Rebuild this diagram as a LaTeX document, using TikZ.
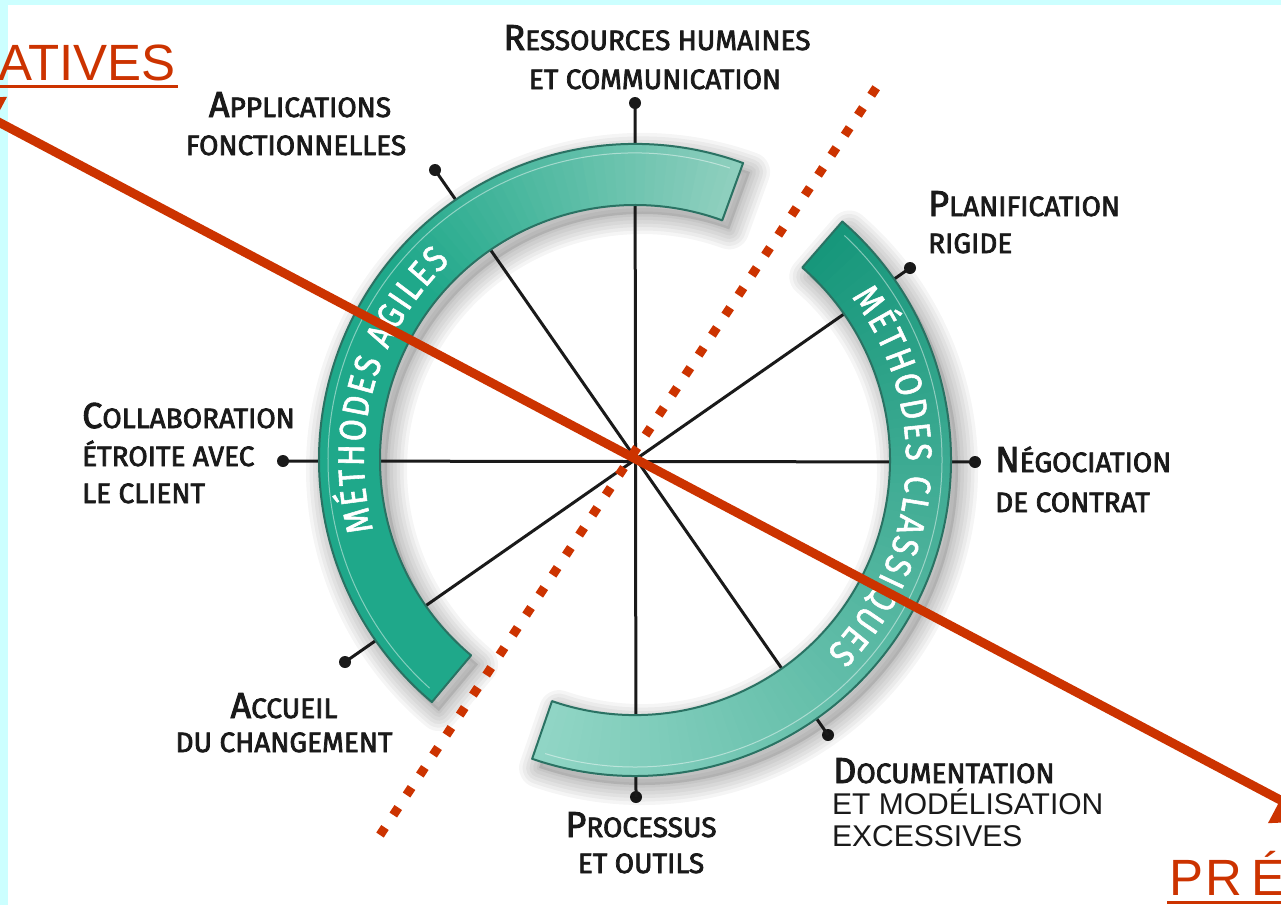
\documentclass[tikz,border=0pt]{standalone}
\usepackage{fontspec}
\setmainfont{Liberation Sans}
\newfontfamily\labfont{Fira Sans}[FakeBold=2.6]
\newfontfamily\arcfont{Fira Sans}[FakeBold=1.5, FakeStretch=0.86]
\usetikzlibrary{arrows.meta,decorations.text}

\definecolor{slidebg}{HTML}{CCFFFF}
\definecolor{accent}{HTML}{CC3300}
\definecolor{ink}{HTML}{1A1A1A}
\definecolor{agileDark}{HTML}{1FA88A}
\definecolor{agileLight}{HTML}{8ECFBE}
\definecolor{classDark}{HTML}{17977B}
\definecolor{classLight}{HTML}{92D6C6}
\definecolor{ringedge}{HTML}{2A7263}

\newcommand\initl[1]{{\fontsize{36}{36}\selectfont #1}}
\newcommand\rin{255}
\newcommand\rout{316}

\begin{document}
\begin{tikzpicture}[x=1pt,y=1pt,
  spoke/.style={draw=ink, line width=3pt},
  pin/.style={circle, fill=ink, inner sep=0pt, minimum size=12pt},
  lab/.style={inner sep=0pt, text=ink, font=\labfont\fontsize{28}{28}\selectfont},
  plain/.style={inner sep=0pt, text=ink, font=\fontsize{30}{30}\selectfont},
  redtext/.style={inner sep=0pt, text=accent},
  redline/.style={draw=accent, line width=9pt},
  ringline/.style={draw=ringedge, line width=2pt, line join=round},
  gloss/.style={draw=white, opacity=0.45, line width=1pt}]

\useasboundingbox (0,-905) rectangle (1281,0);
\begin{scope}
\clip (0,-905) rectangle (1281,0);

% slide and margin
\fill[slidebg] (0,-905) rectangle (1281,0);
\fill[white] (8,-905) rectangle (1281,-5);

% pins at the ends of the spokes
\node[pin] (pT)  at (635,-103) {};
\node[pin] (pB)  at (636,-797) {};
\node[pin] (pL)  at (283,-461) {};
\node[pin] (pR)  at (975,-462) {};
\node[pin] (pUL) at (435,-170) {};
\node[pin] (pDR) at (828,-735) {};
\node[pin] (pUR) at (910,-268) {};
\node[pin] (pDL) at (345,-662) {};

% soft shadow of the two arcs
\begin{scope}[shift={(642,-469)}]
  \foreach \w in {40,33,26,19,12,5}{
    \draw[black, opacity=0.04, line width=\w pt, line join=round]
      (70:\rout) arc[start angle=70,end angle=230,radius=\rout] -- (230:\rin)
      arc[start angle=230,end angle=70,radius=\rin] -- cycle;
    \draw[black, opacity=0.04, line width=\w pt, line join=round]
      (49:\rout) arc[start angle=49,end angle=-109,radius=\rout] -- (-109:\rin)
      arc[start angle=-109,end angle=49,radius=\rin] -- cycle;
  }
  \fill[black, opacity=0.1]
      (70:\rout) arc[start angle=70,end angle=230,radius=\rout] -- (230:\rin)
      arc[start angle=230,end angle=70,radius=\rin] -- cycle;
  \fill[black, opacity=0.1]
      (49:\rout) arc[start angle=49,end angle=-109,radius=\rout] -- (-109:\rin)
      arc[start angle=-109,end angle=49,radius=\rin] -- cycle;
\end{scope}

% spokes
\draw[spoke] (pT.center) -- (pB.center);
\draw[spoke] (pL.center) -- (pR.center);
\draw[spoke] (pUL.center) -- (pDR.center);
\draw[spoke] (pUR.center) -- (pDL.center);

\begin{scope}[shift={(635,-460)}]
  % agile arc, light at its upper end
  \foreach \k in {0,...,79}{
    \pgfmathsetmacro\aa{70+2*\k}
    \pgfmathsetmacro\ab{min(\aa+2.6,230)}
    \pgfmathsetmacro\t{min(100,(\aa-70)/70*100)}
    \fill[agileDark!\t!agileLight] (\aa:\rout) arc[start angle=\aa,end angle=\ab,radius=\rout]
      -- (\ab:\rin) arc[start angle=\ab,end angle=\aa,radius=\rin] -- cycle;
  }
  % classical arc, light at its lower end
  \foreach \k in {0,...,78}{
    \pgfmathsetmacro\aa{49-2*\k}
    \pgfmathsetmacro\ab{max(\aa-2.6,-109)}
    \pgfmathsetmacro\t{(49-\aa)/158*100}
    \fill[classLight!\t!classDark] (\aa:\rout) arc[start angle=\aa,end angle=\ab,radius=\rout]
      -- (\ab:\rin) arc[start angle=\ab,end angle=\aa,radius=\rin] -- cycle;
  }
  \draw[ringline] (70:\rout) arc[start angle=70,end angle=230,radius=\rout] -- (230:\rin)
      arc[start angle=230,end angle=70,radius=\rin] -- cycle;
  \draw[ringline] (49:\rout) arc[start angle=49,end angle=-109,radius=\rout] -- (-109:\rin)
      arc[start angle=-109,end angle=49,radius=\rin] -- cycle;
  \draw[gloss] (72:307) arc[start angle=72,end angle=228,radius=307];
  \draw[gloss] (47:307) arc[start angle=47,end angle=-107,radius=307];

  % arc titles
  \path[decorate, decoration={text along path, text align=fit to path, text color=white,
      text={|\arcfont\fontsize{37}{37}\selectfont|MÉTHODES AGILES}}]
      (195:271) arc[start angle=195,end angle=133,radius=271];
  \path[decorate, decoration={text along path, text align=fit to path, text color=white,
      text={|\arcfont\fontsize{37}{37}\selectfont|MÉTHODES CLASSIQUES}}]
      (37:271) arc[start angle=37,end angle=-45,radius=271];
\end{scope}

% labels
\node[lab, anchor=base] (lRes1) at (657,-50) {\initl{R}ESSOURCES HUMAINES};
\node[lab, anchor=base] (lRes2) at (655,-89) {ET COMMUNICATION};
\node[lab, anchor=base] (lApp1) at (300,-117) {\initl{A}PPLICATIONS};
\node[lab, anchor=base] (lApp2) at (296,-155) {FONCTIONNELLES};
\node[lab, anchor=base west] (lPla1) at (928,-216) {\initl{P}LANIFICATION};
\node[lab, anchor=base west] (lPla2) at (928,-253) {RIGIDE};
\node[lab, anchor=base west] (lCol1) at (82,-428) {\initl{C}OLLABORATION};
\node[lab, anchor=base west] (lCol2) at (82,-466) {ÉTROITE AVEC};
\node[lab, anchor=base west] (lCol3) at (82,-503) {LE CLIENT};
\node[lab, anchor=base west] (lNeg1) at (995,-472) {\initl{N}ÉGOCIATION};
\node[lab, anchor=base west] (lNeg2) at (995,-512) {DE CONTRAT};
\node[lab, anchor=base] (lAcc1) at (284,-718) {\initl{A}CCUEIL};
\node[lab, anchor=base] (lAcc2) at (284,-752) {DU CHANGEMENT};
\node[lab, anchor=base] (lPro1) at (641,-837) {\initl{P}ROCESSUS};
\node[lab, anchor=base] (lPro2) at (641,-873) {ET OUTILS};
\node[lab, anchor=base west] (lDoc1) at (833,-783) {\initl{D}OCUMENTATION};
\node[plain, anchor=base west] (lDoc2) at (832,-814) {ET MODÉLISATION};
\node[plain, anchor=base west] (lDoc3) at (832,-846) {EXCESSIVES};

% dotted divider
\coordinate (dA) at (380,-835);
\coordinate (dB) at (878,-85);
\draw[redline, dash pattern=on 9pt off 15pt] (dA) -- (dB);

% double arrow across the wheel
\coordinate (aL) at (-45,-99);
\coordinate (aR) at (1320,-821);
\draw[redline, {Triangle[length=45pt,width=50pt]}-{Triangle[length=45pt,width=50pt]}] (aL) -- (aR);

% headings cut by the slide edges
\node[redtext, anchor=base east, font=\fontsize{51}{51}\selectfont] (tA) at (176,-80) {ATIVES};
\draw[accent, line width=3pt] ([yshift=-6pt]tA.base west) -- ([yshift=-6pt,xshift=2pt]tA.base east);
\node[redtext, anchor=base west, font=\fontsize{51}{51}\selectfont] (tP) at (1169,-895) {P\kern2pt R\kern9pt É};
\coordinate (tPend) at (1290,-902);
\draw[accent, line width=3pt] ([xshift=-2pt,yshift=-7pt]tP.base west) -- (tPend);
\end{scope}
\end{tikzpicture}
\end{document}
